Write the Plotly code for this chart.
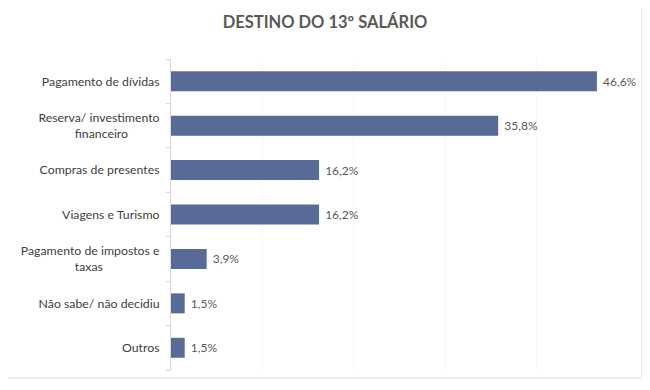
import plotly.graph_objects as go

categories = ["Pagamento de dívidas", "Reserva/ investimento<br>financeiro", "Compras de presentes",
              "Viagens e Turismo", "Pagamento de impostos e<br>taxas", "Não sabe/ não decidiu", "Outros"]
values = [46.6, 35.8, 16.2, 16.2, 3.9, 1.5, 1.5]
labels = ["46,6%", "35,8%", "16,2%", "16,2%", "3,9%", "1,5%", "1,5%"]

# the page body adds an 8px offset; compensate in the margins
OFF = 8
W, H = 650, 390
L, R, T, B = 171 - OFF, 22 + OFF, 59 - OFF, 20 + OFF
pw, ph = W - L - R, H - T - B

# trailing no-break spaces so wrapped second lines look centred (tick labels are right-aligned)
second_line_pad = {"financeiro": 10, "taxas": 18}


def centre_wrapped(label):
    parts = label.split("<br>")
    return "<br>".join([parts[0]] + [p + "\u00a0" * second_line_pad.get(p, 0) for p in parts[1:]])


ticktext = [centre_wrapped(c) for c in categories]

fig = go.Figure(go.Bar(
    y=categories, x=values, orientation="h",
    marker=dict(color="#586B96", line=dict(width=0)),
    width=0.45,
    text=labels, texttemplate=" %{text}", textposition="outside", cliponaxis=False,
    textfont=dict(family="Lato", size=12, color="#595959"),
))

fig.update_layout(
    width=W, height=H,
    margin=dict(l=L, r=R, t=T, b=B),
    paper_bgcolor="white", plot_bgcolor="white",
    title=dict(text="<b>DESTINO DO 13º SALÁRIO</b>", x=(325 - OFF) / W, xanchor="center",
               y=1 - (22 - OFF) / H, yanchor="middle",
               font=dict(family="Lato", size=16.5, color="#595959")),
    showlegend=False,
    xaxis=dict(range=[0, 50], dtick=10, showgrid=True, gridcolor="#F8F8F8", gridwidth=1,
               showticklabels=False, zeroline=False, showline=False, ticks=""),
    yaxis=dict(autorange="reversed", showline=True, linecolor="#D9D9D9", linewidth=1,
               ticks="outside", tickson="boundaries", ticklen=4, tickcolor="#D9D9D9",
               ticklabelstandoff=8,
               tickmode="array", tickvals=categories, ticktext=ticktext,
               tickfont=dict(family="Lato", size=12.3, color="#404040")),
    shapes=[dict(type="rect", xref="paper", yref="paper",
                 x0=(1 - OFF - L) / pw, x1=(642 - OFF - L) / pw,
                 y0=(H - B - (378 - OFF)) / ph, y1=(H - B - (1 - OFF)) / ph,
                 line=dict(color="#D9D9D9", width=1), fillcolor="rgba(0,0,0,0)", layer="below")],
)

fig.write_html("out.html")
